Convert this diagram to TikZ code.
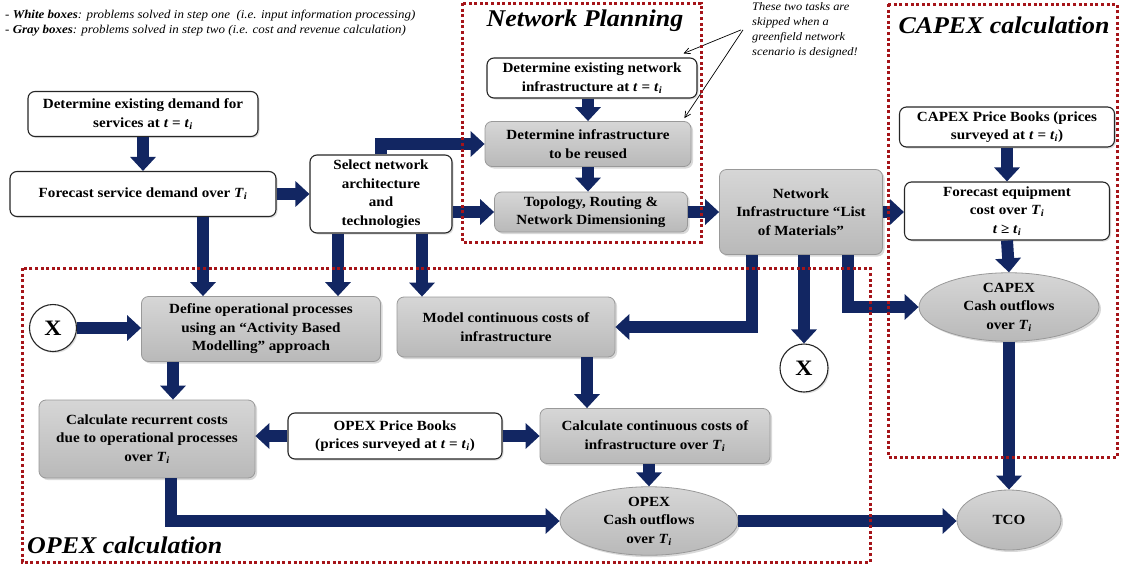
\documentclass[tikz,border=0pt]{standalone}
\usepackage{fontspec}
\setmainfont{Liberation Serif}[FakeStretch=1.08]
\usetikzlibrary{arrows.meta,positioning,shapes.geometric,shadows}

\definecolor{flowblue}{RGB}{18,38,98}
\definecolor{framered}{RGB}{165,20,25}
\newcommand{\tis}{\textit{t}\;=\;\textit{t}\textsubscript{\textit{i}}}
\newcommand{\Tis}{\textit{T}\textsubscript{\textit{i}}}

\tikzset{
  boxtext/.style={font=\fontsize{14}{18.5}\selectfont\bfseries, align=center, inner sep=2pt},
  whitebox/.style={boxtext, draw=black!85, line width=1.1pt, fill=white, rounded corners=7pt,
    drop shadow={shadow xshift=1.5pt, shadow yshift=-1.5pt, opacity=0.25}},
  graybox/.style={boxtext, draw=gray!80, line width=0.8pt, top color=gray!32, bottom color=gray!55,
    rounded corners=7pt, drop shadow={shadow xshift=2pt, shadow yshift=-2pt, opacity=0.3}},
  cashell/.style={boxtext, ellipse, draw=gray!80, line width=0.8pt, top color=gray!32,
    bottom color=gray!55, inner sep=0pt, drop shadow={shadow xshift=2pt, shadow yshift=-2pt, opacity=0.3}},
  xcircle/.style={circle, draw=black!85, line width=1.1pt, fill=white, inner sep=0pt,
    font=\fontsize{22}{22}\selectfont\bfseries, drop shadow={shadow xshift=1.5pt, shadow yshift=-1.5pt, opacity=0.25}},
  flow/.style={draw=flowblue, line width=12pt, -{Triangle[width=25pt,length=14pt]}},
  planframe/.style={draw=framered, line width=3pt, dash pattern=on 3pt off 2.6pt},
  frametitle/.style={font=\fontsize{24}{24}\selectfont\bfseries\itshape, inner sep=0pt},
  remark/.style={font=\fontsize{11.5}{15}\selectfont\itshape, inner sep=0pt, align=left}
}

\begin{document}
\begin{tikzpicture}[x=1pt,y=-1pt]
  \useasboundingbox (0,0) rectangle (1121,570); % 図全体の範囲

  % 凡例
  \node[remark, font=\fontsize{12}{15}\selectfont\itshape, anchor=base west] (legw) at (5,18) {- \textbf{White boxes}: problems solved in step one~~(i.e. input information processing)}; % 白い箱の説明
  \node[remark, font=\fontsize{12}{15}\selectfont\itshape, anchor=base west] (legg) at (5,33) {- \textbf{Gray boxes}: problems solved in step two (i.e. cost and revenue calculation)}; % 灰色の箱の説明

  % 入力情報の処理（白い箱）
  \node[whitebox, minimum width=230pt, minimum height=45pt] (demand) at (143,114) {Determine existing demand for\\services at \tis}; % 既存需要
  \node[whitebox, minimum width=266pt, minimum height=45pt] (fcst) at (143,194) {Forecast service demand over \Tis}; % 需要予測
  \node[whitebox, minimum width=142pt, minimum height=78pt] (sel) at (381,194) {Select network\\architecture\\and\\technologies}; % アーキテクチャ選択
  \node[whitebox, minimum width=210pt, minimum height=40pt] (exist) at (592,78) {Determine existing network\\infrastructure at \tis}; % 既存インフラ
  \node[graybox, minimum width=206pt, minimum height=45pt] (reuse) at (588,144) {Determine infrastructure\\to be reused}; % 再利用インフラ
  \node[graybox, minimum width=193pt, minimum height=40pt] (topo) at (591,212) {Topology, Routing \&\\Network Dimensioning}; % 設計
  \node[graybox, minimum width=163pt, minimum height=85pt] (lom) at (801,212) {Network\\Infrastructure “List\\of Materials”}; % 資材リスト

  % CAPEX 側
  \node[whitebox, minimum width=215pt, minimum height=40pt] (capbook) at (1007,127) {CAPEX Price Books (prices\\surveyed at \tis)}; % CAPEX 価格表
  \node[whitebox, minimum width=205pt, minimum height=58pt] (fceq) at (1007,211) {Forecast equipment\\cost over \Tis\\\textit{t} ≥ \textit{t}\textsubscript{\textit{i}}}; % 機器費用予測
  \node[cashell, minimum width=180pt, minimum height=68pt] (capcash) at (1009,307) {CAPEX\\Cash outflows\\over \Tis}; % CAPEX 支出
  \node[cashell, minimum width=104pt, minimum height=60pt] (tco) at (1009,520) {TCO}; % 総保有コスト

  % OPEX 側
  \node[xcircle, minimum size=47pt] (xl) at (53,328) {X}; % 接続記号（左）
  \node[graybox, minimum width=239pt, minimum height=65pt] (defop) at (261,329) {Define operational processes\\using an “Activity Based\\Modelling” approach}; % 運用プロセス定義
  \node[graybox, minimum width=218pt, minimum height=60pt] (model) at (506,327) {Model continuous costs of\\infrastructure}; % 継続費用モデル
  \node[xcircle, minimum size=48pt] (xr) at (804,368) {X}; % 接続記号（右）
  \node[graybox, minimum width=216pt, minimum height=78pt] (recur) at (147,439) {Calculate recurrent costs\\due to operational processes\\over \Tis}; % 経常費用
  \node[whitebox, minimum width=214pt, minimum height=46pt] (opbook) at (395,436) {OPEX Price Books\\(prices surveyed at \tis)}; % OPEX 価格表
  \node[graybox, minimum width=230pt, minimum height=55pt] (ccont) at (655,436) {Calculate continuous costs of\\infrastructure over \Tis}; % 継続費用計算
  \node[cashell, minimum width=178pt, minimum height=68pt] (opcash) at (649,521) {OPEX\\Cash outflows\\over \Tis}; % OPEX 支出

  % 注記
  \node[remark, anchor=north west] (skipnote) at (752,2) {These two tasks are\\skipped when a\\greenfield network\\scenario is designed!}; % 注記の文
  \draw[line width=0.7pt, -{Straight Barb[length=6pt,width=6pt]}] ([xshift=-11pt]skipnote.west) -- ([shift={(-14pt,4pt)}]exist.north east); % 注記から上の箱へ
  \draw[line width=0.7pt, -{Straight Barb[length=6pt,width=6pt]}] ([xshift=-9pt]skipnote.west) -- ([shift={(-7pt,3pt)}]reuse.north east); % 注記から下の箱へ

  % 流れの矢印
  \draw[flow] (demand.south) -- (fcst.north); % 需要 → 予測
  \draw[flow] (fcst.east) -- (sel.west); % 予測 → 選択
  \draw[flow] ([xshift=60pt]fcst.south) -- ([xshift=60pt]fcst.south |- defop.north); % 予測 → 運用
  \draw[flow] ([xshift=-43pt]sel.south) -- ([xshift=-43pt]sel.south |- defop.north); % 選択 → 運用
  \draw[flow] ([xshift=41pt]sel.south) -- ([xshift=41pt]sel.south |- model.north); % 選択 → 継続費用
  \draw[flow] (sel.north) |- (reuse.west); % 選択 → 再利用
  \draw[flow] (sel.east |- topo) -- (topo.west); % 選択 → 設計
  \draw[flow] (reuse.north |- exist.south) -- (reuse.north); % 既存 → 再利用
  \draw[flow] (reuse.south) -- (reuse.south |- topo.north); % 再利用 → 設計
  \draw[flow] (topo.east) -- (topo.east -| lom.west); % 設計 → 資材
  \draw[flow] (lom.east) -- (lom.east -| fceq.west); % 資材 → 機器費用
  \draw[flow] (capbook.south) -- (fceq.north); % 価格表 → 機器費用
  \draw[flow] (fceq.south) -- (capcash.north); % 機器費用 → CAPEX
  \draw[flow] (capcash.south) -- (tco.north); % CAPEX → TCO
  \draw[flow] ([xshift=-49pt]lom.south) |- (model.east); % 資材 → 継続費用
  \draw[flow] (xr.north |- lom.south) -- (xr.north); % 資材 → X
  \draw[flow] ([xshift=47pt]lom.south) |- (capcash.west); % 資材 → CAPEX
  \draw[flow] (xl.east) -- (xl.east -| defop.west); % X → 運用
  \draw[flow] ([xshift=-88pt]defop.south) -- ([xshift=-88pt]defop.south |- recur.north); % 運用 → 経常費用
  \draw[flow] ([xshift=81pt]model.south) -- ([xshift=81pt]model.south |- ccont.north); % 継続費用モデル → 計算
  \draw[flow] (opbook.west) -- (opbook.west -| recur.east); % 価格表 → 経常費用
  \draw[flow] (opbook.east) -- (opbook.east -| ccont.west); % 価格表 → 継続費用
  \draw[flow] ([xshift=24pt]recur.south) |- (opcash.west); % 経常費用 → OPEX
  \draw[flow] (opcash.north |- ccont.south) -- (opcash.north); % 継続費用 → OPEX
  \draw[flow] (opcash.east) -- (opcash.east -| tco.west); % OPEX → TCO

  % 点線の枠と見出し
  \draw[planframe] (462,3) rectangle (701,242); % ネットワーク計画の枠
  \draw[planframe] (888,4) rectangle (1117,457); % CAPEX の枠
  \draw[planframe] (22,268) rectangle (870,562); % OPEX の枠
  \node[frametitle, anchor=base] (plantitle) at (585,27) {Network Planning}; % 見出し
  \node[frametitle, anchor=base] (captitle) at (1004,33) {CAPEX calculation}; % 見出し
  \node[frametitle, anchor=base west] (optitle) at (27,553) {OPEX calculation}; % 見出し
\end{tikzpicture}
\end{document}
